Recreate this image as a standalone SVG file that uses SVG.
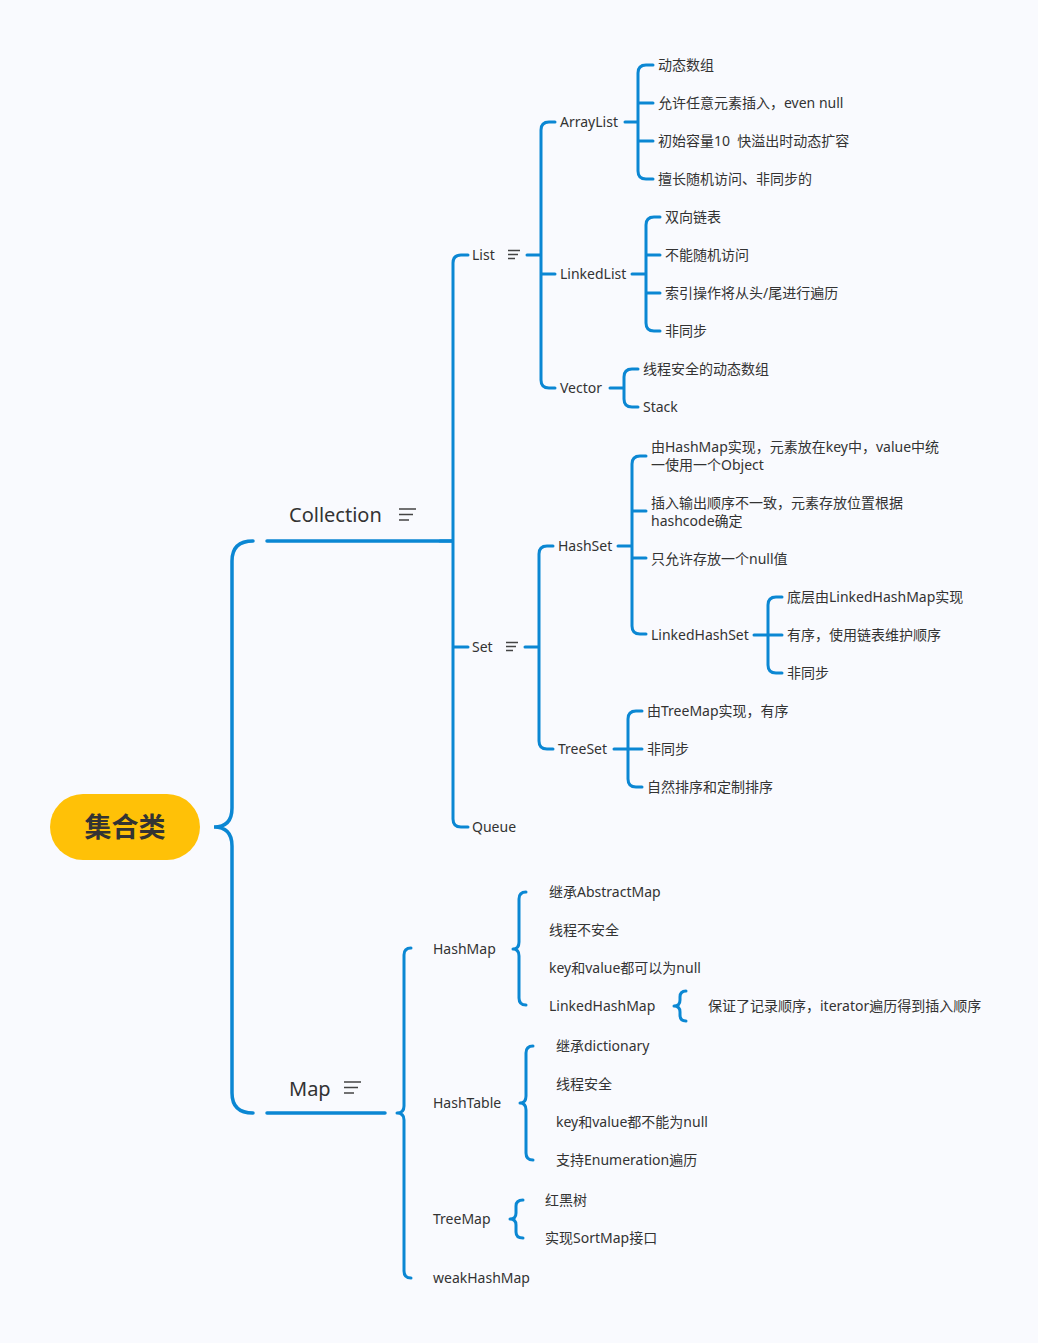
<svg xmlns="http://www.w3.org/2000/svg" width="1038" height="1343" viewBox="0 0 1038 1343">
<style>
text{font-family:"Noto Sans","Noto Sans CJK SC",sans-serif;font-size:14px;fill:#333}
.big{font-size:20px}
.root{font-size:27px;font-weight:bold;fill:#333}
.c{fill:none;stroke:#0b87d3;stroke-width:3;stroke-linecap:round;stroke-linejoin:round}
.cb{fill:none;stroke:#0b87d3;stroke-width:3.5;stroke-linecap:round}
.ic{stroke:#444;stroke-width:1.3}
</style>
<rect width="1038" height="1343" fill="#f9fafe"/>
<g id="connectors">
  <path class="cb" d="M253 541 Q232 541 232 561 V808 Q232 827 214 827 Q232 827 232 846 V1093 Q232 1113 253 1113"/>
  <path class="cb" d="M267 541 H452"/>
  <path class="cb" d="M267 1113 H385"/>
  <path class="c" d="M468 255 H461 Q453 255 453 263 V819 Q453 827 461 827 H468 M453 647 H468 M440 541 H453"/>
  <path class="c" d="M527 255 H541 M555 122 H549 Q541 122 541 130 V380 Q541 388 549 388 H555 M541 274 H555"/>
  <path class="c" d="M625 122 H638 M653 65 H646 Q638 65 638 73 V171 Q638 179 646 179 H653 M638 103 H653 M638 141 H653"/>
  <path class="c" d="M632 274 H646 M660 217 H654 Q646 217 646 225 V323 Q646 331 654 331 H660 M646 255 H660 M646 293 H660"/>
  <path class="c" d="M610 388 H624 M638 369 H632 Q624 369 624 377 V399 Q624 407 632 407 H638"/>
  <path class="c" d="M525 647 H539 M553 546 H547 Q539 546 539 554 V741 Q539 749 547 749 H553"/>
  <path class="c" d="M618 546 H632 M646 456 H640 Q632 456 632 464 V626 Q632 634 640 634 H646 M632 511 H646 M632 558 H646"/>
  <path class="c" d="M754 635 H768 M782 597 H776 Q768 597 768 605 V665 Q768 673 776 673 H782 M768 635 H782"/>
  <path class="c" d="M614 749 H628 M642 711 H636 Q628 711 628 719 V779 Q628 787 636 787 H642 M628 749 H642"/>
  <path class="c" d="M411 948 Q404 948 404 955 V1106 Q404 1113 397 1113 Q404 1113 404 1120 V1271 Q404 1278 411 1278"/>
  <path class="c" d="M526 892 Q519 892 519 899 V942 Q519 949 513 949 Q519 949 519 956 V998 Q519 1005 526 1005"/>
  <path class="c" d="M686 991 Q680 991 680 997 V1000 Q680 1006 674 1006 Q680 1006 680 1012 V1015 Q680 1021 686 1021"/>
  <path class="c" d="M533 1046 Q526 1046 526 1053 V1096 Q526 1103 520 1103 Q526 1103 526 1110 V1153 Q526 1160 533 1160"/>
  <path class="c" d="M523 1200 Q516 1200 516 1206 V1213 Q516 1219 510 1219 Q516 1219 516 1225 V1232 Q516 1238 523 1238"/>
</g>
<g id="root">
  <rect x="50" y="794" width="150" height="66" rx="33" fill="#ffc107"/>
  <text class="root" x="125" y="837" text-anchor="middle">集合类</text>
</g>
<g id="collection">
  <text class="big" x="289" y="522">Collection</text>
  <path class="ic" d="M399 509 H416 M399 514.5 H413 M399 520 H409"/>
</g>
<g id="map">
  <text class="big" x="289" y="1096">Map</text>
  <path class="ic" d="M344 1082 H361 M344 1087.5 H358 M344 1093 H354"/>
</g>
<g id="list">
  <text x="472" y="260">List</text>
  <path class="ic" d="M508 250.5 H520 M508 254.5 H518 M508 258.5 H515"/>
</g>
<g id="set">
  <text x="472" y="652">Set</text>
  <path class="ic" d="M506 642.5 H518 M506 646.5 H516 M506 650.5 H513"/>
</g>
<g id="queue"><text x="472" y="832">Queue</text></g>
<g id="arraylist"><text x="560" y="127">ArrayList</text></g>
<g id="al1"><text x="658" y="70">动态数组</text></g>
<g id="al2"><text x="658" y="108">允许任意元素插入，even null</text></g>
<g id="al3"><text x="658" y="146">初始容量10 &#160;快溢出时动态扩容</text></g>
<g id="al4"><text x="658" y="184">擅长随机访问、非同步的</text></g>
<g id="linkedlist"><text x="560" y="279">LinkedList</text></g>
<g id="ll1"><text x="665" y="222">双向链表</text></g>
<g id="ll2"><text x="665" y="260">不能随机访问</text></g>
<g id="ll3"><text x="665" y="298">索引操作将从头/尾进行遍历</text></g>
<g id="ll4"><text x="665" y="336">非同步</text></g>
<g id="vector"><text x="560" y="393">Vector</text></g>
<g id="v1"><text x="643" y="374">线程安全的动态数组</text></g>
<g id="v2"><text x="643" y="412">Stack</text></g>
<g id="hashset"><text x="558" y="551">HashSet</text></g>
<g id="hs1"><text x="651" y="452">由HashMap实现，元素放在key中，value中统<tspan x="651" y="470">一使用一个Object</tspan></text></g>
<g id="hs2"><text x="651" y="508">插入输出顺序不一致，元素存放位置根据<tspan x="651" y="526">hashcode确定</tspan></text></g>
<g id="hs3"><text x="651" y="564">只允许存放一个null值</text></g>
<g id="linkedhashset"><text x="651" y="640">LinkedHashSet</text></g>
<g id="lhs1"><text x="787" y="602">底层由LinkedHashMap实现</text></g>
<g id="lhs2"><text x="787" y="640">有序，使用链表维护顺序</text></g>
<g id="lhs3"><text x="787" y="678">非同步</text></g>
<g id="treeset"><text x="558" y="754">TreeSet</text></g>
<g id="ts1"><text x="647" y="716">由TreeMap实现，有序</text></g>
<g id="ts2"><text x="647" y="754">非同步</text></g>
<g id="ts3"><text x="647" y="792">自然排序和定制排序</text></g>
<g id="hashmap"><text x="433" y="954">HashMap</text></g>
<g id="hm1"><text x="549" y="897">继承AbstractMap</text></g>
<g id="hm2"><text x="549" y="935">线程不安全</text></g>
<g id="hm3"><text x="549" y="973">key和value都可以为null</text></g>
<g id="linkedhashmap"><text x="549" y="1011">LinkedHashMap</text></g>
<g id="lhm1"><text x="708" y="1011">保证了记录顺序，iterator遍历得到插入顺序</text></g>
<g id="hashtable"><text x="433" y="1108">HashTable</text></g>
<g id="ht1"><text x="556" y="1051">继承dictionary</text></g>
<g id="ht2"><text x="556" y="1089">线程安全</text></g>
<g id="ht3"><text x="556" y="1127">key和value都不能为null</text></g>
<g id="ht4"><text x="556" y="1165">支持Enumeration遍历</text></g>
<g id="treemap"><text x="433" y="1224">TreeMap</text></g>
<g id="tm1"><text x="545" y="1205">红黑树</text></g>
<g id="tm2"><text x="545" y="1243">实现SortMap接口</text></g>
<g id="weakhashmap"><text x="433" y="1283">weakHashMap</text></g>
</svg>
